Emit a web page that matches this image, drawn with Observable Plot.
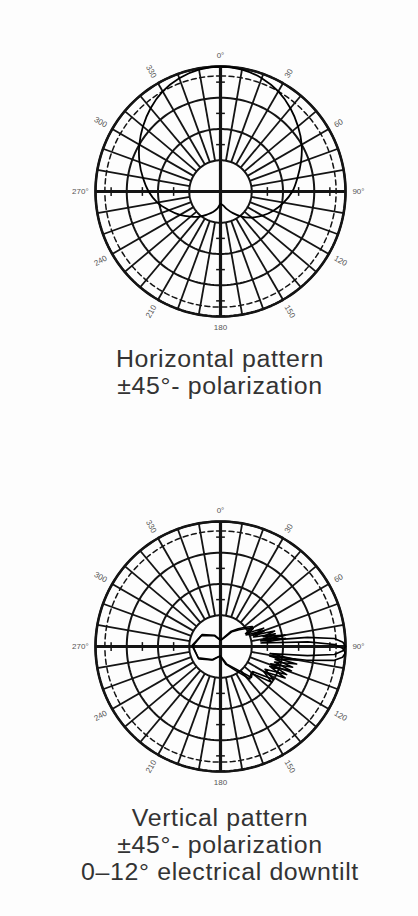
<!DOCTYPE html>
<html>
<head>
<meta charset="utf-8">
<script src="https://cdn.jsdelivr.net/npm/d3@7"></script>
<script src="https://cdn.jsdelivr.net/npm/@observablehq/plot@0.6"></script>
<style>
  html, body { margin: 0; padding: 0; background: #fdfdfd; }
  #page { position: relative; width: 418px; height: 916px; overflow: hidden; }
  .chart { position: absolute; left: 0; }
  .tline { position: absolute; left: 0; width: 440px; text-align: center;
           font-family: "Liberation Sans", Arial, sans-serif; font-size: 23.5px;
           letter-spacing: 0.6px; line-height: 27px; height: 27px; color: #333;
           transform: scaleX(1.06); transform-origin: 220px 50%; white-space: nowrap; }
</style>
</head>
<body>
<div id="page">
  <div id="chart1" class="chart" style="top:0px"></div>
  <div id="chart2" class="chart" style="top:460px"></div>
</div>
<script>
// ---------- data ----------
const ringLevels = [0, -10, -20, -30];            // dB rings (solid)
const dashedLevels = [-3];                         // dB ring (dashed)
const axisTickLevels = [-5, -15, -25];             // small ticks on main axes
const labelAngles = [0, 30, 60, 90, 120, 150, 180, 210, 240, 270, 300, 330];
const labelTexts = ["0°", "30", "60", "90°", "120", "150", "180", "210", "240", "270°", "300", "330"];

// Horizontal pattern (azimuth deg, relative level dB)
const hAngles = [0, 10, 20, 30, 40, 50, 60, 70, 80, 90, 100, 110, 120, 130, 140, 150, 160, 170,
                 180, 190, 200, 210, 220, 230, 240, 250, 260, 270, 280, 290, 300, 310, 320, 330, 340, 350];
const hDb = [0, -0.4, -1.4, -3, -5.2, -7.6, -10, -12.6, -15, -17, -19.5, -22, -24.5, -27, -29.5, -32, -34, -35.5,
             -36, -34.5, -33, -31.5, -29.5, -27.5, -25, -22.5, -19.5, -17, -14.8, -12.4, -10, -7.6, -5.2, -3, -1.4, -0.4];

// Vertical pattern (offset from main beam deg, relative level dB), shown for several downtilts
const vOffsets = [-180, -150, -120, -90, -70, -55, -45, -38, -32, -27, -23, -19, -16, -13, -10, -8, -6, -4, -2, 0,
                  2, 4, 6, 8, 10, 13, 16, 19, 23, 27, 32, 38, 45, 55, 70, 90, 120, 150];
const vDb = [-31, -33, -36, -38, -37, -34, -32, -30, -28, -31, -25, -29, -22, -26, -19, -27, -12, -3.5, -0.8, 0,
             -0.8, -3.5, -12, -24, -15, -22, -16, -23, -17, -24, -20, -27, -26, -31, -34, -37, -35, -32];
const vTilts = [0, 3];

const titleTop = ["Horizontal pattern", "±45°- polarization"];
const titleBottom = ["Vertical pattern", "±45°- polarization", "0–12° electrical downtilt"];

// ---------- helpers ----------
const RANGE_DB = 40;                  // centre = -40 dB, outer ring = 0 dB
const PX_PER_UNIT = 125 / RANGE_DB;
const CX = 220;
const INK = "#141414";

const rOf = (db) => Math.max(0, db + RANGE_DB);
const px = (r, a) => r * Math.sin(a * Math.PI / 180);
const py = (r, a) => r * Math.cos(a * Math.PI / 180);

function gridMarks() {
  const ringPts = ringLevels.flatMap(l => d3.range(0, 361, 2).map(a => ({l, a})));
  const dashPts = dashedLevels.flatMap(l => d3.range(0, 361, 2).map(a => ({l, a})));
  const spokes = d3.range(10, 360, 10).filter(a => a % 90 !== 0);
  const axes = [0, 90];
  const ticks = [0, 90, 180, 270].flatMap(a => axisTickLevels.map(l => ({a, l})));
  const tk = 1.4;
  const right = labelAngles.map((a, i) => ({a, t: labelTexts[i]})).filter(d => d.a > 0 && d.a < 180);
  const left = labelAngles.map((a, i) => ({a, t: labelTexts[i]})).filter(d => d.a > 180);
  const tb = labelAngles.map((a, i) => ({a, t: labelTexts[i]})).filter(d => d.a === 0 || d.a === 180);
  const LR = 42.2, TBR = 43.6;
  const lblStyle = {fontSize: 8, fill: "#555", fontFamily: "Liberation Sans, Arial, sans-serif"};
  return [
    Plot.line(dashPts, {x: d => px(rOf(d.l), d.a), y: d => py(rOf(d.l), d.a), z: "l",
      stroke: INK, strokeWidth: 1.5, strokeDasharray: "5,3.5"}),
    Plot.link(spokes, {x1: a => px(rOf(-30), a), y1: a => py(rOf(-30), a),
      x2: a => px(rOf(0), a), y2: a => py(rOf(0), a), stroke: INK, strokeWidth: 1.8}),
    Plot.line(ringPts, {x: d => px(rOf(d.l), d.a), y: d => py(rOf(d.l), d.a), z: "l",
      stroke: INK, strokeWidth: 2}),
    Plot.line(ringPts.filter(d => d.l === 0), {x: d => px(rOf(d.l), d.a), y: d => py(rOf(d.l), d.a),
      stroke: INK, strokeWidth: 2.6}),
    Plot.link(axes, {x1: a => px(rOf(0), a), y1: a => py(rOf(0), a),
      x2: a => px(rOf(0), a + 180), y2: a => py(rOf(0), a + 180), stroke: INK, strokeWidth: 3.2}),
    Plot.link(ticks, {
      x1: d => px(rOf(d.l), d.a) + px(tk, d.a + 90), y1: d => py(rOf(d.l), d.a) + py(tk, d.a + 90),
      x2: d => px(rOf(d.l), d.a) - px(tk, d.a + 90), y2: d => py(rOf(d.l), d.a) - py(tk, d.a + 90),
      stroke: INK, strokeWidth: 1.5}),
    Plot.text(right, {x: d => px(LR, d.a), y: d => py(LR, d.a), text: "t", rotate: d => d.a - 90,
      textAnchor: "start", ...lblStyle}),
    Plot.text(left, {x: d => px(LR, d.a), y: d => py(LR, d.a), text: "t", rotate: d => d.a - 270,
      textAnchor: "end", ...lblStyle}),
    Plot.text(tb, {x: d => px(TBR, d.a), y: d => py(TBR, d.a), text: "t", textAnchor: "middle", ...lblStyle})
  ];
}

function polarChart(height, cy, patternMarks) {
  return Plot.plot({
    width: 418, height,
    margin: 0,
    style: {background: "transparent"},
    x: {domain: [-CX / PX_PER_UNIT, (418 - CX) / PX_PER_UNIT], range: [0, 418]},
    y: {domain: [-(height - cy) / PX_PER_UNIT, cy / PX_PER_UNIT], range: [height, 0]},
    axis: null,
    marks: [...gridMarks(), ...patternMarks]
  });
}

// ---------- chart 1: horizontal ----------
const hData = hAngles.map((a, i) => ({a, db: hDb[i]}));
const chart1 = polarChart(345, 191, [
  Plot.line(hData, {x: d => px(rOf(d.db), d.a), y: d => py(rOf(d.db), d.a),
    curve: "catmull-rom-closed", stroke: "#000", strokeWidth: 1.8})
]);
document.getElementById("chart1").append(chart1);

// ---------- chart 2: vertical ----------
const vData = vTilts.flatMap(t => vOffsets.map((o, i) => ({t, a: (90 + t + o + 360) % 360, db: vDb[i]})));
const chart2 = polarChart(340, 186, [
  Plot.line(vData, {x: d => px(rOf(d.db), d.a), y: d => py(rOf(d.db), d.a), z: "t",
    curve: "linear-closed", stroke: "#000", strokeWidth: 1.6})
]);
document.getElementById("chart2").append(chart2);

// ---------- titles (one element per line) ----------
function addTitle(lines, top) {
  const page = document.getElementById("page");
  lines.forEach((txt, i) => {
    const d = document.createElement("div");
    d.className = "tline";
    d.style.top = (top + i * 27) + "px";
    d.textContent = txt;
    page.append(d);
  });
}
addTitle(titleTop, 346);
addTitle(titleBottom, 805);
</script>
</body>
</html>
